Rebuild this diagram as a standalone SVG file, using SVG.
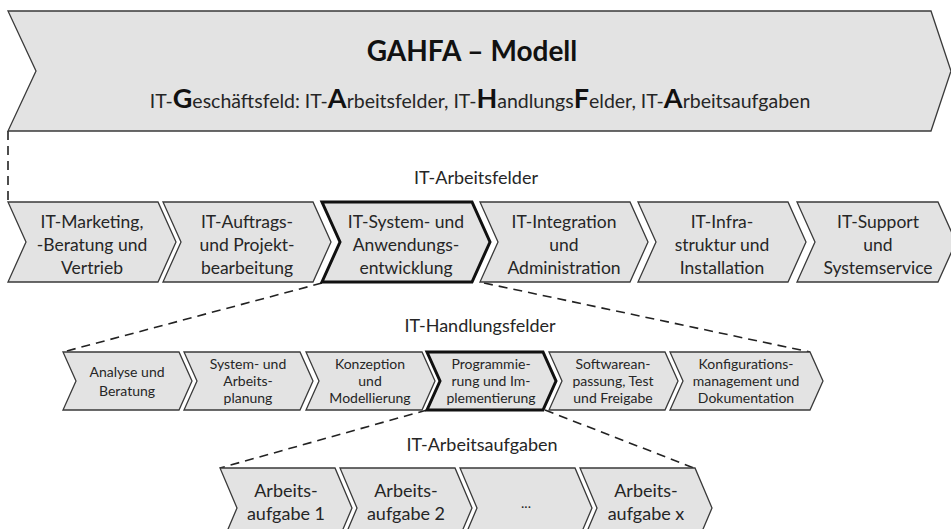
<svg xmlns="http://www.w3.org/2000/svg" width="951" height="529" viewBox="0 0 951 529">
  <style>
    .chev { fill: #e3e3e3; stroke: #3a3a3a; stroke-width: 1.3; stroke-linejoin: miter; }
    .bold { fill: #e3e3e3; stroke: #111; stroke-width: 3; stroke-linejoin: miter; }
    .dash { fill: none; stroke: #222; stroke-width: 1.6; stroke-dasharray: 9 6; }
    text { font-family: Lato, "Open Sans", sans-serif; fill: #262626; text-anchor: middle; }
    .l2 { font-size: 17.5px; }
    .l3 { font-size: 14px; }
    .l4 { font-size: 18px; }
    .cap { font-size: 18px; }
    .title { font-size: 28px; font-weight: bold; fill: #111; }
    .sub { font-size: 19.5px; }
    .big { font-size: 27px; font-weight: bold; fill: #111; }
  </style>
  <rect width="951" height="529" fill="#ffffff"/>

  <!-- connectors -->
  <g id="connectors">
    <line class="dash" x1="8" y1="131" x2="8" y2="202"/>
    <line class="dash" x1="322" y1="283" x2="63" y2="352"/>
    <line class="dash" x1="484" y1="283" x2="810" y2="352"/>
    <line class="dash" x1="427" y1="410" x2="220" y2="468"/>
    <line class="dash" x1="545" y1="410" x2="694" y2="468"/>
  </g>

  <!-- top level -->
  <g id="gahfa">
    <polygon class="chev" points="8,11 931,11 951,71 931,131 8,131 36,71"/>
    <text class="title" x="472" y="61">GAHFA – Modell</text>
    <text class="sub" x="480" y="108">IT-<tspan class="big">G</tspan>eschäftsfeld: IT-<tspan class="big">A</tspan>rbeitsfelder, IT-<tspan class="big">H</tspan>andlungs<tspan class="big">F</tspan>elder, IT-<tspan class="big">A</tspan>rbeitsaufgaben</text>
  </g>

  <!-- IT-Arbeitsfelder -->
  <text class="cap" x="476" y="184">IT-Arbeitsfelder</text>
  <g id="af1">
    <polygon class="chev" points="8,202 158,202 176,242 158,282 8,282 26,242"/>
    <text class="l2" x="92" y="228">IT-Marketing,</text>
    <text class="l2" x="92" y="251">-Beratung und</text>
    <text class="l2" x="92" y="274">Vertrieb</text>
  </g>
  <g id="af2">
    <polygon class="chev" points="163,202 313,202 331,242 313,282 163,282 181,242"/>
    <text class="l2" x="247" y="228">IT-Auftrags-</text>
    <text class="l2" x="247" y="251">und Projekt-</text>
    <text class="l2" x="247" y="274">bearbeitung</text>
  </g>
  <g id="af4">
    <polygon class="chev" points="480,202 630,202 648,242 630,282 480,282 498,242"/>
    <text class="l2" x="564" y="228">IT-Integration</text>
    <text class="l2" x="564" y="251">und</text>
    <text class="l2" x="564" y="274">Administration</text>
  </g>
  <g id="af5">
    <polygon class="chev" points="638,202 788,202 806,242 788,282 638,282 656,242"/>
    <text class="l2" x="722" y="228">IT-Infra-</text>
    <text class="l2" x="722" y="251">struktur und</text>
    <text class="l2" x="722" y="274">Installation</text>
  </g>
  <g id="af6">
    <polygon class="chev" points="797,202 938,202 956,242 938,282 797,282 815,242"/>
    <text class="l2" x="878" y="228">IT-Support</text>
    <text class="l2" x="878" y="251">und</text>
    <text class="l2" x="878" y="274">Systemservice</text>
  </g>
  <g id="af3">
    <polygon class="bold" points="322,202 472,202 490,242 472,282 322,282 340,242"/>
    <text class="l2" x="406" y="228">IT-System- und</text>
    <text class="l2" x="406" y="251">Anwendungs-</text>
    <text class="l2" x="406" y="274">entwicklung</text>
  </g>

  <!-- IT-Handlungsfelder -->
  <text class="cap" x="480" y="332">IT-Handlungsfelder</text>
  <g id="hf1">
    <polygon class="chev" points="63,352 179,352 192,381 179,410 63,410 76,381"/>
    <text class="l3" x="127" y="377">Analyse und</text>
    <text class="l3" x="127" y="396">Beratung</text>
  </g>
  <g id="hf2">
    <polygon class="chev" points="184,352 300,352 313,381 300,410 184,410 197,381"/>
    <text class="l3" x="248" y="369">System- und</text>
    <text class="l3" x="248" y="386">Arbeits-</text>
    <text class="l3" x="248" y="403">planung</text>
  </g>
  <g id="hf3">
    <polygon class="chev" points="306,352 422,352 435,381 422,410 306,410 319,381"/>
    <text class="l3" x="370" y="369">Konzeption</text>
    <text class="l3" x="370" y="386">und</text>
    <text class="l3" x="370" y="403">Modellierung</text>
  </g>
  <g id="hf5">
    <polygon class="chev" points="549,352 665,352 678,381 665,410 549,410 562,381"/>
    <text class="l3" x="613" y="369">Softwarean-</text>
    <text class="l3" x="613" y="386">passung, Test</text>
    <text class="l3" x="613" y="403">und Freigabe</text>
  </g>
  <g id="hf6">
    <polygon class="chev" points="670,352 810,352 823,381 810,410 670,410 683,381"/>
    <text class="l3" x="746" y="369">Konfigurations-</text>
    <text class="l3" x="746" y="386">management und</text>
    <text class="l3" x="746" y="403">Dokumentation</text>
  </g>
  <g id="hf4">
    <polygon class="bold" points="427,352 543,352 556,381 543,410 427,410 440,381"/>
    <text class="l3" x="491" y="369">Programmie-</text>
    <text class="l3" x="491" y="386">rung und Im-</text>
    <text class="l3" x="491" y="403">plementierung</text>
  </g>

  <!-- IT-Arbeitsaufgaben -->
  <text class="cap" x="482" y="451">IT-Arbeitsaufgaben</text>
  <g id="aa1">
    <polygon class="chev" points="220,468 335,468 352,508 335,548 220,548 237,508"/>
    <text class="l4" x="286" y="497">Arbeits-</text>
    <text class="l4" x="286" y="520">aufgabe 1</text>
  </g>
  <g id="aa2">
    <polygon class="chev" points="340,468 455,468 472,508 455,548 340,548 357,508"/>
    <text class="l4" x="406" y="497">Arbeits-</text>
    <text class="l4" x="406" y="520">aufgabe 2</text>
  </g>
  <g id="aa3">
    <polygon class="chev" points="460,468 575,468 592,508 575,548 460,548 477,508"/>
    <text class="l3" x="526" y="508">...</text>
  </g>
  <g id="aa4">
    <polygon class="chev" points="580,468 695,468 712,508 695,548 580,548 597,508"/>
    <text class="l4" x="646" y="497">Arbeits-</text>
    <text class="l4" x="646" y="520">aufgabe x</text>
  </g>
</svg>
